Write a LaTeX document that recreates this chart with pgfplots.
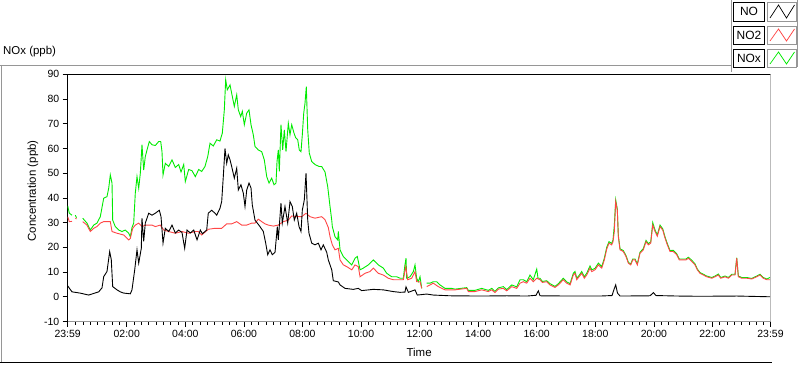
\documentclass[border=0pt]{standalone}
\usepackage{pgfplots}
\pgfplotsset{compat=1.18}
\usepackage{pgfplotstable}
\usepackage{fontspec}
\setmainfont{Liberation Sans}
\definecolor{noxgreen}{RGB}{0,235,0}
\definecolor{notwored}{RGB}{255,70,70}
\definecolor{framegray}{RGB}{150,150,150}

\pgfplotstableread{
x y
0 4.4
8.8 2.0
25.2 1.5
43 0.7
63.5 2.0
70.3 3.6
73.8 8.2
80.5 10.2
86 18.3
89.3 15.0
92.2 4.1
101 2.8
107.8 2.0
114.7 1.5
128.3 1.2
131.7 2.8
137.3 10.9
142 19.0
145.5 13.6
150.8 19.6
152.2 31.8
155.7 22.4
159 29.8
166 33.8
172.7 33.0
179.5 33.8
187.7 35.0
191.2 32.4
195.3 21.7
200 27.7
207 26.4
213.7 29.0
220.5 25.8
227.4 27.0
234.2 26.0
239.7 19.6
244.4 27.0
251.2 25.8
258.2 27.0
265 23.0
271.7 27.0
276 25.5
284.8 27.0
288 33.8
295 35.0
301.8 33.8
305.3 33.0
312 35.8
315.5 38.5
318.8 48.6
322.3 60.0
325.8 54.0
329 57.4
332.6 55.4
336 52.7
341.4 48.0
346.3 52.0
349.6 43.2
355 45.3
359.8 41.9
363.3 36.5
366.8 43.2
371.5 46.0
375.6 44.0
378.2 37.2
383.8 31.0
394 28.4
400.8 26.4
405.7 21.7
409.8 17.0
414.5 19.0
419.2 17.0
424.8 18.0
429.5 28.4
431.5 23.0
437 37.9
439.7 29.8
445.2 36.5
450.8 29.8
455.5 38.5
460.2 36.5
464.3 31.0
469.2 33.8
474 28.4
478 26.4
480.7 35.0
484.8 39.2
488.3 50.0
491.8 31.0
494.4 25.7
500 21.7
506.7 21.0
513.5 21.7
519 19.0
523.7 21.0
530.7 18.0
534 14.9
541 10.9
544.2 6.5
554.5 6.0
558 4.8
568.2 3.4
585.2 3.0
595.4 3.4
602.4 2.5
626.2 3.0
646.7 2.8
667.2 2.1
680.9 1.8
691 1.9
693.2 4.0
698 1.8
711.6 2.8
716.3 0.7
735.6 1.1
749.1 0.7
783.3 0.4
845 0.3
900 0.4
941 0.3
959.6 0.6
964.3 2.4
967.7 0.4
1030 0.3
1090.7 0.3
1115.3 0.5
1119.4 3.0
1122.8 4.8
1126.5 1.5
1131.7 0.3
1193.2 0.4
1200 1.7
1205.4 0.5
1250 0.3
1295.6 0.2
1371.4 0.3
1439 0.0
}\nodata

\pgfplotstableread{
x y
0 32.4
3.3 30.4
8.8 30.5
10.9 nan
15.6 31.8
18 31.5
21 nan
30.7 30.4
39.5 29.0
46.3 26.4
53.3 27.7
60 28.4
66.8 29.8
73.8 30.4
87.3 30.4
90.8 26.4
101 25.7
114.7 25.0
125 23.0
128.3 23.6
133.2 27.7
138.5 29.0
145.5 29.8
152.2 28.4
159 29.0
172.7 29.0
179.5 28.4
189.7 29.0
196.7 27.0
207 26.4
220.5 25.7
234.2 26.4
247.9 25.7
261.5 26.4
267.6 26.4
274.6 25.0
288 27.3
301.8 27.7
315.5 27.7
325.8 29.5
336 29.5
346.3 30.4
356.5 29.0
366.8 29.0
377 29.8
383.8 29.8
390.5 31.4
397.5 30.4
404.3 29.5
411 29.0
421.3 28.6
431.5 29.0
441.8 30.4
452 31.0
459 32.7
469.2 32.4
479.5 32.4
488.3 33.8
496.5 32.4
506.7 31.8
520.4 32.4
527.2 31.2
534 28.0
537.5 24.3
542.2 21.0
547.7 19.0
554.5 19.6
558 14.9
564.7 12.9
571.7 12.2
582 10.9
588.7 12.9
595.4 12.2
599 8.1
609.2 9.5
619.4 10.2
626.2 11.6
636.4 9.5
646.7 8.8
656.9 7.5
667.2 6.9
677.4 6.9
687.7 6.9
692.6 12.2
696.7 6.9
704.9 7.5
711.6 10.2
715 6.1
721.9 6.1
725.4 3.4
727 nan
735.6 4.1
749.1 5.5
759.4 4.1
773.1 2.8
793.6 2.8
817.6 3.4
820.8 2.1
834.5 2.1
848.3 2.8
861.8 2.1
868.8 2.8
875.5 1.7
882.3 3.1
892.5 3.4
899.5 2.4
909.8 4.1
920 3.4
926.8 5.5
933.5 6.1
940.5 5.5
947.2 7.5
954 6.1
961 7.5
967.7 6.9
972.5 5.8
981.5 6.1
988.2 4.8
998.5 3.8
1005.2 4.8
1015.5 6.9
1022.5 5.5
1029.3 4.8
1036 8.8
1039.5 9.5
1043 6.9
1047.7 8.1
1053.2 9.5
1058.5 7.5
1063.4 8.8
1070.2 11.6
1073.7 10.2
1080.4 10.9
1087.2 12.9
1094.2 11.6
1099.5 14.9
1104.4 19.3
1109.1 21.7
1114.6 21.0
1117.3 22.3
1120 26.4
1122.8 38.5
1126.1 35.0
1128.2 24.3
1131.7 19.0
1138.4 18.3
1143.9 16.3
1148.7 13.6
1153.6 12.9
1157.7 14.9
1162.4 14.9
1167.1 12.9
1172.6 17.6
1179.4 19.0
1184.9 22.3
1189.7 21.0
1194.6 21.7
1198.7 29.0
1203.4 26.4
1208.1 24.5
1213.6 28.4
1219.2 27.0
1223.9 23.7
1228.6 21.0
1234.1 18.3
1240.9 18.3
1247.9 17.0
1253.2 14.9
1260.1 14.9
1266.9 14.9
1271.6 15.6
1278.6 14.3
1285.3 12.9
1290.1 10.9
1295.6 9.5
1302.4 8.8
1309.3 8.1
1319.6 7.5
1326.3 8.1
1333.1 8.8
1338 7.5
1346.9 8.1
1353.6 7.5
1360.6 8.8
1367.3 8.8
1370.8 15.6
1374.1 8.1
1381.1 7.5
1391.3 7.5
1401.5 7.2
1411.8 8.1
1418.6 8.8
1425.3 7.5
1432.3 6.9
1439 6.9
}\notwodata

\pgfplotstableread{
x y
0 36.8
3.3 33.8
8.8 33.0
10.9 nan
15.6 33.0
18 32.0
21 nan
30.7 31.8
39.5 29.8
46.3 27.0
53.3 29.0
60 29.8
66.8 32.4
73.8 39.9
80.5 40.5
84 43.9
87.3 49.3
90.8 46.0
92.2 31.0
97.5 28.4
104.5 27.0
111.3 26.4
118 27.0
125 25.7
128.3 24.3
131.7 28.0
135.2 29.8
138.5 41.9
142 48.6
145.5 43.9
148.8 50.0
152.2 61.5
155.7 51.3
159 56.7
162.5 59.4
167.2 62.8
172.7 61.5
179.5 61.2
186.5 62.8
190.6 62.8
193.2 58.7
195.3 49.3
200 54.0
207 52.7
213.7 55.4
220.5 52.3
227.4 53.5
232.2 50.5
237.7 53.5
241 46.6
247.9 51.5
254.7 51.0
261.5 48.6
268.4 51.5
274.6 50.7
281.3 52.7
286.9 56.7
291.6 62.1
298.3 61.0
305.3 63.5
312 63.0
316.8 66.2
320.9 75.6
323.7 87.8
327 83.7
332.6 85.7
337.3 81.0
341.4 77.0
346.3 81.7
349.6 75.6
354.5 72.9
357.8 75.0
361.9 69.6
366.8 74.3
371.5 75.6
375.6 69.6
380.3 65.5
383.8 60.8
390.5 59.4
397.5 58.7
402.8 55.4
407.8 48.6
412.5 46.0
418 48.0
422.7 45.3
426.8 46.0
428.9 54.7
431.5 59.4
433.6 50.7
437 69.6
440.5 59.4
443.8 67.5
447.3 58.7
452 70.2
455.5 65.5
459 69.6
463.7 66.2
467.2 64.3
471.3 63.5
474.5 59.4
478 58.7
480.7 65.5
483.6 74.3
486.2 78.3
488.9 85.0
491.8 67.5
495 58.1
500 54.7
506.7 53.5
515 52.7
520.4 52.7
527.2 50.5
532.7 44.6
537.5 36.5
541 31.0
542.2 28.4
547.7 24.3
553.2 23.0
554.5 26.4
558 19.0
564.7 16.3
571.7 14.9
582 12.9
588.7 15.6
593.4 16.3
599 10.9
605.7 11.6
616 12.9
626.2 14.9
636.4 12.9
646.7 11.6
653.6 9.5
663.9 8.1
674.1 8.1
681 7.5
687.7 7.5
691 12.9
693.2 15.6
694.6 7.5
701.4 8.1
708.2 10.2
711.6 12.9
715 7.5
718.4 6.1
721.9 8.1
725.4 3.4
727 nan
735.6 5.5
742.4 5.5
749.1 6.1
756.1 6.1
762.8 4.8
773.1 3.4
786.8 3.4
793.6 3.1
817.6 3.7
820.8 2.6
834.5 2.6
848.3 3.4
861.8 2.6
868.8 3.4
875.5 2.2
882.3 3.6
892.5 4.1
899.5 2.9
909.8 4.8
920 4.0
926.8 6.9
933.5 6.9
940.5 6.1
947.2 8.8
954 6.9
961 11.2
963.6 7.5
967.7 7.5
972.5 6.2
981.5 6.5
988.2 5.3
998.5 4.2
1005.2 5.3
1015.5 7.5
1022.5 6.0
1029.3 5.3
1036 9.5
1039.5 10.2
1043 7.5
1047.7 8.6
1053.2 10.2
1058.5 8.1
1063.4 9.5
1070.2 12.5
1073.7 10.9
1080.4 11.5
1087.2 13.6
1094.2 12.2
1099.5 15.6
1104.4 20.0
1109.1 22.3
1114.6 21.6
1117.3 23.0
1120 29.0
1122.8 39.2
1126.1 35.5
1128.2 24.8
1131.7 19.4
1138.4 18.7
1143.9 16.7
1148.7 14.0
1153.6 13.2
1157.7 15.3
1162.4 15.3
1167.1 13.3
1172.6 18.0
1179.4 19.5
1184.9 22.8
1189.7 21.5
1194.6 22.2
1198.7 30.0
1203.4 27.0
1208.1 25.0
1213.6 29.0
1219.2 27.5
1223.9 24.2
1228.6 21.5
1234.1 18.7
1240.9 18.8
1247.9 17.4
1253.2 15.3
1260.1 15.3
1266.9 15.3
1271.6 16.0
1278.6 14.8
1285.3 13.3
1290.1 11.2
1295.6 9.8
1302.4 9.1
1309.3 8.4
1319.6 7.8
1326.3 8.4
1333.1 9.2
1338 7.8
1346.9 8.4
1353.6 7.8
1360.6 9.1
1367.3 9.1
1370.8 15.8
1374.1 8.4
1381.1 7.8
1391.3 7.8
1401.5 7.4
1411.8 8.4
1418.6 9.1
1425.3 7.8
1432.3 7.2
1439 7.8
}\noxdata

\begin{document}
\begin{tikzpicture}
\useasboundingbox (0,0) rectangle (800bp,365bp);
\begin{axis}[
  at={(67.7bp,43.5bp)}, anchor=south west,
  scale only axis, width=702.8bp, height=247.2bp,
  xmin=0, xmax=1440, ymin=-10, ymax=90,
  separate axis lines,
  axis x line*=bottom, axis y line*=left,
  x axis line style={draw=framegray, line width=0.8bp},
  y axis line style={draw=black, line width=0.8bp},
  xtick={0,121,241,361,481,601,721,841,961,1081,1201,1321,1440},
  xticklabels={23:59,02:00,04:00,06:00,08:00,10:00,12:00,14:00,16:00,18:00,20:00,22:00,23:59},
  minor xtick={16,31,...,1426},
  ytick={-10,0,...,90},
  tick align=outside,
  major tick length=5bp, minor tick length=3bp,
  tick style={black, line width=0.6bp},
  tick label style={font=\fontsize{10.5}{12}\selectfont},
  /pgf/number format/assume math mode=true,
  xlabel={Time}, ylabel={Concentration (ppb)},
  label style={font=\fontsize{11.5}{13}\selectfont},
  xlabel style={at={(axis description cs:0.5,-0.127)}, anchor=center},
  ylabel style={at={(axis description cs:-0.0494,0.528)}, anchor=center},
  unbounded coords=jump,
  clip=true,
]
\addplot[noxgreen, line width=0.9bp] table[x=x,y=y] {\noxdata};
\addplot[notwored, line width=0.9bp] table[x=x,y=y] {\notwodata};
\addplot[black, line width=0.9bp] table[x=x,y=y] {\nodata};
\draw[black, line width=0.8bp] (rel axis cs:0,1) -- (rel axis cs:1,1);
\draw[framegray, line width=0.8bp] (rel axis cs:1,0) -- (rel axis cs:1,1);
\end{axis}
\begin{scope}[x=1bp,y=1bp]
  % outer panel
  \draw[framegray, line width=0.8bp] (0,300) -- (731,300);
  \draw[framegray, line width=0.8bp] (731,293) -- (731,365);
  \draw[framegray, line width=0.8bp] (1,300) -- (1,2.5);
  \draw[black, line width=0.8bp] (0,2.3) -- (772,2.3);
  \draw[framegray, line width=0.8bp] (797.5,298) -- (797.5,365);
  \node[anchor=west, inner sep=0pt, font=\fontsize{11.5}{13}\selectfont] at (3,313) {NOx (ppb)};
  % legend
  \foreach \lab/\col/\yb/\yt in {NO/black/344/363, NO2/notwored/321/339, NOx/noxgreen/298/316}{
    \draw[black, line width=0.7bp, fill=white] (733.5,\yb) rectangle (764.5,\yt);
    \node[inner sep=0pt, font=\fontsize{12}{14}\selectfont] at (749,{(\yb+\yt)/2}) {\lab};
    \draw[framegray, line width=0.7bp, fill=white] (767,\yb) rectangle (796.5,\yt);
    \draw[\col, line width=0.7bp] (770,\yb+3) -- (778.5,\yt-3) -- (786.5,\yb+3) -- (794.5,\yt-3);
  }
\end{scope}
\end{tikzpicture}
\end{document}
